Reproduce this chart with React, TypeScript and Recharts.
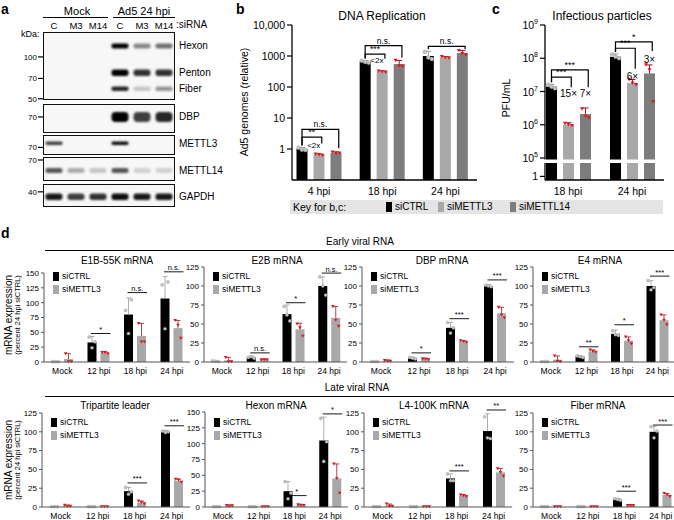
import React from 'react';
import { BarChart, Bar, XAxis, YAxis, ScatterChart, Scatter } from 'recharts';

const FONT = '"Liberation Sans", Arial, Helvetica, sans-serif';
const CTRL_COLOR = '#000000';
const M3_COLOR = '#a8a8a8';
const M14_COLOR = '#7d7d7d';
const RED = '#e0161c';
const ERR_CTRL = '#9a9a9a';
const ERR_KD = '#a3161b';
const DOT_GRAY = '#c4c4c4';

// ---------------- Panel a : western blot ----------------
const blotLanes = ['C', 'M3', 'M14', 'C', 'M3', 'M14'];
const hexonBand = [0, 0, 0, 1.0, 0.45, 0.55];
const pentonBand = [0, 0, 0, 1.0, 0.8, 0.8];
const fiberBand = [0, 0, 0, 0.85, 0.2, 0.4];
const dbpBand = [0, 0, 0, 1.0, 0.75, 0.85];
const mettl3Band = [0.75, 0, 0, 0.95, 0, 0];
const mettl14Band = [0.65, 0.3, 0.2, 0.65, 0.15, 0.15];
const gapdhBand = [0.9, 0.75, 0.8, 0.95, 0.9, 0.9];
const bandNames = ['Hexon', 'Penton', 'Fiber', 'DBP', 'METTL3', 'METTL14', 'GAPDH'];
const bandKDa = [120, 77, 59, 70, 75, 59, 37];
const markers1 = [100, 70, 50];
const markers2 = [70];
const markers3 = [70];
const markers4 = [70];
const markers5 = [40];

// ---------------- Panel b : DNA replication ----------------
const bCats = ['4 hpi', '18 hpi', '24 hpi'];
const bTicks = [1, 10, 100, 1000, 10000];
const bCtrl = [1.0, 650, 1000];
const bCtrlErr = [0.12, 60, 420];
const bCtrlReps = [[1.1, 0.95, 0.92], [700, 640, 610], [1350, 900, 800]];
const bM3 = [0.65, 310, 900];
const bM3Err = [0.04, 20, 60];
const bM3Reps = [[0.68, 0.66, 0.62], [325, 310, 300], [950, 880, 870]];
const bM14 = [0.75, 550, 1250];
const bM14Err = [0.06, 170, 260];
const bM14Reps = [[0.8, 0.72, 0.74], [720, 480, 460], [1500, 1200, 1080]];
const bSig = [
  { cat: 0, to: 1, label: '**', line: 2.4, drop: 1.5 },
  { cat: 0, to: 2, label: 'n.s.', line: 4.3, drop: 1.05 },
  { cat: 1, to: 1, label: '***', line: 1150, drop: 820 },
  { cat: 1, to: 2, label: 'n.s.', line: 2150, drop: 900 },
  { cat: 2, to: 2, label: 'n.s.', line: 2050, drop: 1650 },
];
const bFold = [
  { cat: 0, to: 1, label: '<2x', at: 1.08 },
  { cat: 1, to: 1, label: '<2x', at: 590 },
];

// ---------------- Panel c : infectious particles ----------------
const cCats = ['18 hpi', '24 hpi'];
const cTicks = [28000, 1e5, 1e6, 1e7, 1e8, 1e9];
const cCtrl = [1.4e7, 1.1e8];
const cCtrlErr = [2.5e6, 2.5e7];
const cCtrlReps = [[1.6e7, 1.4e7, 1.25e7], [1.3e8, 1.1e8, 1.0e8]];
const cM3 = [1.0e6, 1.8e7];
const cM3Err = [1.5e5, 5e6];
const cM3Reps = [[1.1e6, 1.0e6, 0.95e6], [2.3e7, 1.8e7, 1.6e7]];
const cM14 = [2.1e6, 3.5e7];
const cM14Err = [1.1e6, 2.8e7];
const cM14Reps = [[3.0e6, 1.8e6, 1.6e6], [6.3e7, 4.5e7, 5e6]];
const cSig = [
  { cat: 0, to: 1, label: '***', line: 2.7e7, drop: 1.35e7 },
  { cat: 0, to: 2, label: '***', line: 4.5e7, drop: 1.35e7 },
  { cat: 1, to: 1, label: '***', line: 2.0e8, drop: 4.8e7 },
  { cat: 1, to: 2, label: '*', line: 3.1e8, drop: 1.65e8 },
];
const cFold = [
  { cat: 0, to: 1, label: '15×', at: 6.8e6 },
  { cat: 0, to: 2, label: '7×', at: 6.8e6 },
  { cat: 1, to: 1, label: '6×', at: 2.2e7 },
  { cat: 1, to: 2, label: '3×', at: 7.0e7 },
];

// ---------------- Panel d : viral mRNAs ----------------
const dCats = ['Mock', '12 hpi', '18 hpi', '24 hpi'];
const ticks125 = [0, 25, 50, 75, 100, 125];
const ticks150 = [0, 25, 50, 75, 100, 125, 150];
const Z = [0.5, 0.5, 0.5];

const e1bCtrl = [0.5, 33, 80, 107];
const e1bCtrlErr = [0, 10, 28, 37];
const e1bCtrlReps = [Z, [42, 24, 34], [87, 48, 105], [130, 56, 135]];
const e1bM3 = [5, 15, 44, 57];
const e1bM3Err = [9, 2, 21, 13];
const e1bM3Reps = [[14, 0.5, 0.5], [16, 16, 14], [65, 34, 34], [70, 62, 40]];
const e1bSig = ['', '*', 'n.s.', 'n.s.'];
const e1bSigAt = [0, 48, 117, 152];

const e2bCtrl = [1, 6, 63, 100];
const e2bCtrlErr = [0.5, 1.5, 12, 12];
const e2bCtrlReps = [[1.5, 1, 0.5], [6, 7, 5], [73, 62, 54], [112, 100, 88]];
const e2bM3 = [2, 3, 43, 58];
const e2bM3Err = [4, 0.5, 8, 15];
const e2bM3Reps = [[6, 0.5, 0.5], [3, 3, 3], [50, 45, 34], [73, 55, 47]];
const e2bSig = ['', 'n.s.', '*', 'n.s.'];
const e2bSigAt = [0, 12, 78, 117];

const dbpCtrl = [0.5, 5, 45, 100];
const dbpCtrlErr = [0, 1.5, 7, 2];
const dbpCtrlReps = [Z, [6, 5, 4], [52, 38, 45], [101, 100, 99]];
const dbpM3 = [1.5, 4, 27, 64];
const dbpM3Err = [1, 0.5, 1, 8];
const dbpM3Reps = [[2, 1.5, 1], [4.5, 4, 3.5], [28, 27, 26], [72, 62, 58]];
const dbpSig = ['', '*', '***', '***'];
const dbpSigAt = [0, 12, 57, 108];

const e4Ctrl = [0.5, 7, 37, 100];
const e4CtrlErr = [0, 1.5, 5, 7];
const e4CtrlReps = [Z, [8, 7, 6], [41, 36, 35], [107, 95, 98]];
const e4M3 = [3, 14, 28, 55];
const e4M3Err = [5, 2, 5, 7];
const e4M3Reps = [[8, 1, 0.5], [16, 14, 13], [33, 28, 24], [62, 55, 49]];
const e4Sig = ['', '**', '*', '***'];
const e4SigAt = [0, 20, 49, 113];

const tplCtrl = [0.5, 0.5, 21, 100];
const tplCtrlErr = [0, 0, 5, 2];
const tplCtrlReps = [Z, Z, [26, 17, 20], [101, 99, 100]];
const tplM3 = [1.5, 0.5, 6, 35];
const tplM3Err = [1, 0, 2, 2];
const tplM3Reps = [[2.5, 1, 1], Z, [8, 6, 4.5], [37, 36, 33]];
const tplSig = ['', '', '***', '***'];
const tplSigAt = [0, 0, 32, 108];

const hexCtrl = [0.5, 0.5, 25, 105];
const hexCtrlErr = [0, 0, 15, 37];
const hexCtrlReps = [Z, Z, [40, 13, 22], [140, 72, 103]];
const hexM3 = [2, 0.5, 3, 45];
const hexM3Err = [1, 0, 1, 23];
const hexM3Reps = [[2.5, 1.5, 2], Z, [3.5, 3, 2.5], [68, 45, 22]];
const hexSig = ['', '', '*', '*'];
const hexSigAt = [0, 0, 18, 147];

const l4Ctrl = [0.5, 0.5, 38, 101];
const l4CtrlErr = [0, 0, 6, 23];
const l4CtrlReps = [Z, Z, [44, 35, 35], [120, 92, 91]];
const l4M3 = [2, 0.5, 15, 46];
const l4M3Err = [2, 0, 1.5, 5];
const l4M3Reps = [[4, 1, 1], Z, [16, 15, 14], [51, 46, 41]];
const l4Sig = ['', '', '***', '**'];
const l4SigAt = [0, 0, 48, 129];

const fibCtrl = [0.5, 0.5, 10, 100];
const fibCtrlErr = [0, 0, 1.5, 7];
const fibCtrlReps = [Z, Z, [11, 10, 9], [107, 92, 101]];
const fibM3 = [0.5, 0.5, 2, 16];
const fibM3Err = [0, 0, 0.5, 2];
const fibM3Reps = [Z, Z, [2, 2, 2], [18, 16, 14]];
const fibSig = ['', '', '***', '***'];
const fibSigAt = [0, 0, 21, 109];

// ---------------- helpers ----------------
const Txt = ({ x, y, s = 10, a = 'middle', b = false, children }: any) => {
  const tx = a === 'middle' ? '-50%' : a === 'end' ? '-100%' : '0';
  return (
    <div style={{ position: 'absolute', left: x, top: y, transform: `translate(${tx}, -50%)`, fontSize: s, fontWeight: b ? 'bold' : 'normal', whiteSpace: 'nowrap', lineHeight: 1 }}>
      {children}
    </div>
  );
};
const RotTxt = ({ x, y, s = 10, children }: any) => (
  <div style={{ position: 'absolute', left: x, top: y, transform: 'translate(-50%, -50%) rotate(-90deg)', fontSize: s, whiteSpace: 'nowrap', lineHeight: 1 }}>
    {children}
  </div>
);
const HLine = ({ x, y, w, t = 1 }: any) => (
  <div style={{ position: 'absolute', left: x, top: y, width: w, height: 0, borderTop: `${t}px solid #000` }} />
);
const Swatch = ({ x, y, w, h, c }: any) => (
  <div style={{ position: 'absolute', left: x, top: y, width: w, height: h, background: c }} />
);

type Sig = { cat: number; to: number; label: string; line: number; drop: number };
type Fold = { cat: number; to: number; label: string; at: number };
type ShapeOpts = {
  means: number[]; errs: number[]; reps: number[][];
  logMin?: number; errColor: string; dot: 'circle' | 'tri'; dotR: number;
  series: number; gap: number; ctrlTop?: number[];
  brackets?: Sig[]; bracketFont?: number;
  folds?: Fold[]; foldFont?: number; foldAnchor?: 'end' | 'middle';
  lineSig?: { labels: string[]; at: number[] };
  breakAt?: number; capW: number; errW: number;
};

function makeShape(o: ShapeOpts) {
  return (props: any) => {
    const { x, y, width, height, fill } = props;
    const idx = props.payload && props.payload.i !== undefined ? props.payload.i : props.index;
    const m = o.means[idx];
    const bottom = y + height;
    let py: (v: number) => number;
    if (o.logMin) {
      const lm = Math.log10(o.logMin);
      const k = height / (Math.log10(m) - lm);
      py = (v) => bottom - (Math.log10(v) - lm) * k;
    } else {
      const k = m > 0 ? height / m : 0;
      py = (v) => bottom - v * k;
    }
    const cx = x + width / 2;
    const els: any[] = [];
    els.push(<rect key="bar" x={x} y={y} width={width} height={height} fill={fill} />);
    if (o.breakAt) {
      const yb = py(o.breakAt);
      els.push(<rect key="brk" x={x - 1} y={yb + 1.5} width={width + 2} height={3.5} fill="#fff" />);
    }
    const e = o.errs[idx];
    if (e > 0) {
      const t = py(m + e);
      els.push(<line key="e1" x1={cx} x2={cx} y1={py(m)} y2={t} stroke={o.errColor} strokeWidth={o.errW} />);
      els.push(<line key="e2" x1={cx - o.capW} x2={cx + o.capW} y1={t} y2={t} stroke={o.errColor} strokeWidth={o.errW} />);
    }
    (o.reps[idx] || []).forEach((v, j) => {
      const px = cx + (j - 1) * width * 0.32;
      const pyv = py(v);
      if (o.dot === 'circle') {
        els.push(<circle key={'d' + j} cx={px} cy={pyv} r={o.dotR} fill={DOT_GRAY} stroke="#8a8a8a" strokeWidth={0.3} />);
      } else {
        const s = o.dotR;
        els.push(<path key={'d' + j} d={`M${px - s},${pyv - s * 0.8} L${px + s},${pyv - s * 0.8} L${px},${pyv + s * 0.9} Z`} fill={RED} />);
      }
    });
    const ctrlCx = x - o.series * (width + o.gap) + width / 2;
    (o.brackets || []).filter((s) => s.cat === idx && s.to === o.series).forEach((s, j) => {
      const dropX = cx + width * 0.25;
      const ly = py(s.line);
      const ctrlY = py(o.ctrlTop ? o.ctrlTop[idx] : m) - 2;
      els.push(<path key={'bk' + j} d={`M${ctrlCx},${ctrlY} L${ctrlCx},${ly} L${dropX},${ly} L${dropX},${py(s.drop)}`} fill="none" stroke="#000" strokeWidth={1.2} />);
      els.push(<text key={'bt' + j} x={(ctrlCx + dropX) / 2} y={ly - 2} textAnchor="middle" fontSize={o.bracketFont} fill="#000">{s.label}</text>);
    });
    (o.folds || []).filter((f) => f.cat === idx && f.to === o.series).forEach((f, j) => {
      const fx = o.foldAnchor === 'end' ? cx + width * 0.25 - 1.5 : cx;
      els.push(<text key={'f' + j} x={fx} y={py(f.at)} textAnchor={o.foldAnchor || 'middle'} fontSize={o.foldFont} fill="#000">{f.label}</text>);
    });
    if (o.lineSig && o.lineSig.labels[idx]) {
      const ly = py(o.lineSig.at[idx]);
      const x1 = ctrlCx - 1;
      const x2 = x + width + 1;
      els.push(<line key="sl" x1={x1} x2={x2} y1={ly} y2={ly} stroke="#000" strokeWidth={0.9} />);
      els.push(<text key="st" x={(x1 + x2) / 2} y={ly - 1.5} textAnchor="middle" fontSize={7.5} fill="#000">{o.lineSig.labels[idx]}</text>);
    }
    return <g>{els}</g>;
  };
}

// ---------------- Panel a component ----------------
const blotBoxes = [
  { top: 32, bottom: 100, domain: [49, 151], markers: markers1, rows: [[hexonBand, 0, 5], [pentonBand, 1, 6.5], [fiberBand, 2, 4.5]], lanesAxis: true },
  { top: 104, bottom: 133, domain: [53.7, 86.6], markers: markers2, rows: [[dbpBand, 3, 10]], lanesAxis: false },
  { top: 134.5, bottom: 155, domain: [61.2, 86.0], markers: markers3, rows: [[mettl3Band, 4, 3.5]], lanesAxis: false },
  { top: 157, bottom: 181, domain: [49.6, 73.5], markers: markers4, rows: [[mettl14Band, 5, 5]], lanesAxis: false },
  { top: 184, bottom: 207, domain: [31.3, 45.4], markers: markers5, rows: [[gapdhBand, 6, 6.5]], lanesAxis: false },
];

const bandShape = (thick: number, fid: string) => (p: any) => {
  const v = p.payload ? p.payload.v : 0;
  if (!v) return <g />;
  return <rect x={p.cx - 8.5} y={p.cy - thick / 2} width={17} height={thick} rx={thick / 2.5} fill="#000" fillOpacity={v} filter={`url(#${fid})`} />;
};

const BlotBox = ({ box, idx }: any) => {
  const AXW = 22;
  const RW = 50;
  const TOPH = box.lanesAxis ? 14 : 0;
  const MT = box.lanesAxis ? 0 : 6;
  const MB = 6;
  const plotL = 43;
  const plotR = 175;
  const w = AXW + (plotR - plotL) + RW;
  const h = box.bottom - box.top + TOPH + MT + MB;
  const rowKDa = box.rows.map((r: any) => bandKDa[r[1]]);
  const fid = 'blur' + idx;
  return (
    <>
      <div style={{ position: 'absolute', left: plotL, top: box.top, width: plotR - plotL, height: box.bottom - box.top, background: '#f7f7f7', border: '1.3px solid #111', boxSizing: 'border-box' }} />
      <div style={{ position: 'absolute', left: plotL - AXW, top: box.top - TOPH - MT }}>
        <ScatterChart width={w} height={h} margin={{ top: MT, right: 0, bottom: MB, left: 0 }}>
          <defs>
            <filter id={fid} x="-30%" y="-100%" width="160%" height="300%">
              <feGaussianBlur stdDeviation="0.9" />
            </filter>
          </defs>
          <XAxis type="number" dataKey="lane" domain={[-0.5, 5.5]} ticks={[0, 1, 2, 3, 4, 5]} orientation="top" hide={!box.lanesAxis} height={TOPH} interval={0}
            tickFormatter={(v: number) => blotLanes[v]} axisLine={false} tickLine={false} tickSize={1} tickMargin={2} tick={{ fontSize: 9.5, fill: '#000' }} allowDataOverflow />
          <YAxis yAxisId="l" type="number" dataKey="kDa" scale="log" domain={box.domain} allowDataOverflow ticks={box.markers} width={AXW} interval={0}
            tickSize={5} axisLine={false} tickLine={{ stroke: '#000', strokeWidth: 1.2 }} tickMargin={1} tick={{ fontSize: 8, fill: '#000' }} />
          <YAxis yAxisId="r" orientation="right" type="number" scale="log" domain={box.domain} allowDataOverflow ticks={rowKDa} width={RW} interval={0}
            tickFormatter={(v: number) => bandNames[box.rows[rowKDa.indexOf(v)][1]]} axisLine={false} tickLine={false} tickSize={2} tickMargin={2} tick={{ fontSize: 10, fill: '#000' }} />
          {box.rows.map((r: any, k: number) => (
            <Scatter key={k} yAxisId="l" isAnimationActive={false}
              data={blotLanes.map((_, i) => ({ lane: i, kDa: bandKDa[r[1]], v: r[0][i] }))}
              shape={bandShape(r[2], fid)} />
          ))}
        </ScatterChart>
      </div>
    </>
  );
};

// ---------------- Panel d component ----------------
const DPanel = ({ p }: any) => {
  const YW = 24;
  const XH = 16;
  const MT = 16;
  const rows = dCats.map((c, i) => ({ cat: c, i, ctrl: p.ctrl[i], m3: p.m3[i] }));
  const ctrlShape = makeShape({ means: p.ctrl, errs: p.ctrlErr, reps: p.ctrlReps, errColor: ERR_CTRL, dot: 'circle', dotR: 1.6, series: 0, gap: 4, capW: 2.5, errW: 0.8 });
  const m3Shape = makeShape({ means: p.m3, errs: p.m3Err, reps: p.m3Reps, errColor: ERR_KD, dot: 'tri', dotR: 1.8, series: 1, gap: 4, capW: 2.5, errW: 0.8, lineSig: { labels: p.sig, at: p.sigAt } });
  return (
    <>
      <Txt x={p.tx} y={p.ty} s={10}>{p.title}</Txt>
      <div style={{ position: 'absolute', left: p.L - YW, top: p.T - MT }}>
        <BarChart width={p.R - p.L + YW} height={p.B - p.T + MT + XH} data={rows} margin={{ top: MT, right: 0, bottom: 0, left: 0 }} barSize={9} barGap={4}>
          <XAxis dataKey="cat" height={XH} interval={0} tickLine={false} tickSize={4} axisLine={{ stroke: '#555' }} tick={{ fontSize: 8.5, fill: '#000' }} />
          <YAxis width={YW} type="number" domain={[0, p.max]} ticks={p.max === 150 ? ticks150 : ticks125} tickSize={3} tickMargin={2} interval={0}
            axisLine={{ stroke: '#555' }} tickLine={{ stroke: '#555' }} tick={{ fontSize: 8, fill: '#000' }} />
          <Bar dataKey="ctrl" fill={CTRL_COLOR} isAnimationActive={false} shape={ctrlShape} />
          <Bar dataKey="m3" fill={M3_COLOR} isAnimationActive={false} shape={m3Shape} />
        </BarChart>
      </div>
      <Swatch x={p.L + 9} y={p.LT - 4.5} w={6} h={9} c={CTRL_COLOR} />
      <Txt x={p.L + 18} y={p.LT} s={8.5} a="start">siCTRL</Txt>
      <Swatch x={p.L + 9} y={p.LT + 13 - 4.5} w={6} h={9} c={M3_COLOR} />
      <Txt x={p.L + 18} y={p.LT + 13} s={8.5} a="start">siMETTL3</Txt>
    </>
  );
};

const dPanels = [
  { title: 'E1B-55K mRNA', tx: 117, ty: 261, L: 44, R: 190, T: 273, B: 362, LT: 276, max: 150, ctrl: e1bCtrl, ctrlErr: e1bCtrlErr, ctrlReps: e1bCtrlReps, m3: e1bM3, m3Err: e1bM3Err, m3Reps: e1bM3Reps, sig: e1bSig, sigAt: e1bSigAt },
  { title: 'E2B mRNA', tx: 277, ty: 261, L: 204, R: 347, T: 267, B: 362, LT: 276, max: 125, ctrl: e2bCtrl, ctrlErr: e2bCtrlErr, ctrlReps: e2bCtrlReps, m3: e2bM3, m3Err: e2bM3Err, m3Reps: e2bM3Reps, sig: e2bSig, sigAt: e2bSigAt },
  { title: 'DBP mRNA', tx: 442, ty: 261, L: 362, R: 514, T: 267, B: 362, LT: 276, max: 125, ctrl: dbpCtrl, ctrlErr: dbpCtrlErr, ctrlReps: dbpCtrlReps, m3: dbpM3, m3Err: dbpM3Err, m3Reps: dbpM3Reps, sig: dbpSig, sigAt: dbpSigAt },
  { title: 'E4 mRNA', tx: 600, ty: 261, L: 533, R: 675, T: 267, B: 362, LT: 276, max: 125, ctrl: e4Ctrl, ctrlErr: e4CtrlErr, ctrlReps: e4CtrlReps, m3: e4M3, m3Err: e4M3Err, m3Reps: e4M3Reps, sig: e4Sig, sigAt: e4SigAt },
  { title: 'Tripartite leader', tx: 115, ty: 406, L: 42, R: 190, T: 413, B: 507, LT: 422, max: 125, ctrl: tplCtrl, ctrlErr: tplCtrlErr, ctrlReps: tplCtrlReps, m3: tplM3, m3Err: tplM3Err, m3Reps: tplM3Reps, sig: tplSig, sigAt: tplSigAt },
  { title: 'Hexon mRNA', tx: 276, ty: 406, L: 205, R: 348, T: 412, B: 507, LT: 422, max: 150, ctrl: hexCtrl, ctrlErr: hexCtrlErr, ctrlReps: hexCtrlReps, m3: hexM3, m3Err: hexM3Err, m3Reps: hexM3Reps, sig: hexSig, sigAt: hexSigAt },
  { title: 'L4-100K mRNA', tx: 434, ty: 406, L: 364, R: 512, T: 413, B: 507, LT: 422, max: 125, ctrl: l4Ctrl, ctrlErr: l4CtrlErr, ctrlReps: l4CtrlReps, m3: l4M3, m3Err: l4M3Err, m3Reps: l4M3Reps, sig: l4Sig, sigAt: l4SigAt },
  { title: 'Fiber mRNA', tx: 598, ty: 406, L: 533, R: 679, T: 413, B: 507, LT: 422, max: 125, ctrl: fibCtrl, ctrlErr: fibCtrlErr, ctrlReps: fibCtrlReps, m3: fibM3, m3Err: fibM3Err, m3Reps: fibM3Reps, sig: fibSig, sigAt: fibSigAt },
];

// ---------------- log tick for panel c ----------------
const PowTick = (props: any) => {
  const { x, y, payload } = props;
  const v = payload.value;
  if (v < 1e5) {
    return <text x={x} y={y} dy={4} textAnchor="end" fontSize={10.5} fill="#000">1</text>;
  }
  const e = Math.round(Math.log10(v));
  return (
    <text x={x} y={y} dy={4} textAnchor="end" fontSize={10.5} fill="#000">
      10<tspan dy={-5} fontSize={7}>{e}</tspan>
    </text>
  );
};

const B_MIN = 0.1;
const C_MIN = 21800;
const C_PLOT_H = 155;
const cBreakLen = ((9 - 5) / (9 - Math.log10(C_MIN))) * C_PLOT_H;

export default function App() {
  const bRows = bCats.map((c, i) => ({ cat: c, i, ctrl: bCtrl[i], m3: bM3[i], m14: bM14[i] }));
  const cRows = cCats.map((c, i) => ({ cat: c, i, ctrl: cCtrl[i], m3: cM3[i], m14: cM14[i] }));
  const bCtrlTop = bCtrl.map((v, i) => v + bCtrlErr[i]);
  const cCtrlTop = cCtrl.map((v, i) => v + cCtrlErr[i]);
  const bCommon = { logMin: B_MIN, gap: 6, capW: 3, errW: 1, dotR: 2, bracketFont: 8.5, foldFont: 8, foldAnchor: 'end' as const, ctrlTop: bCtrlTop };
  const cCommon = { logMin: C_MIN, gap: 6, capW: 3, errW: 1, dotR: 2, bracketFont: 9, foldFont: 10, foldAnchor: 'middle' as const, ctrlTop: cCtrlTop, breakAt: 1e5 };

  return (
    <div style={{ position: 'absolute', left: 0, top: 0, width: 674, height: 520, background: '#fff', fontFamily: FONT, color: '#000', overflow: 'hidden' }}>
      {/* ---------- a ---------- */}
      <Txt x={1} y={9} s={14} b a="start">a</Txt>
      <Txt x={77} y={11} s={11}>Mock</Txt>
      <HLine x={43} y={17} w={65} />
      <Txt x={144} y={11} s={11}>Ad5 24 hpi</Txt>
      <HLine x={113} y={17} w={62} />
      <Txt x={176} y={25} s={10} a="start">:siRNA</Txt>
      <Txt x={21} y={34} s={9} a="start">kDa:</Txt>
      {blotBoxes.map((bx, i) => <BlotBox key={i} box={bx} idx={i} />)}

      {/* ---------- b ---------- */}
      <Txt x={236} y={9} s={14} b a="start">b</Txt>
      <Txt x={382} y={16} s={12}>DNA Replication</Txt>
      <RotTxt x={244} y={102} s={10.5}>Ad5 genomes (relative)</RotTxt>
      <div style={{ position: 'absolute', left: 247, top: 15 }}>
        <BarChart width={230} height={185} data={bRows} margin={{ top: 10, right: 0, bottom: 0, left: 0 }} barSize={11} barGap={6}>
          <XAxis dataKey="cat" height={20} padding={{ left: -4.5, right: 0 }} tickLine={false} tickSize={6} interval={0} axisLine={{ stroke: '#000', strokeWidth: 1.3 }} tick={{ fontSize: 10.5, fill: '#000' }} />
          <YAxis width={45} type="number" scale="log" domain={[B_MIN, 10000]} ticks={bTicks} interval={0}
            tickFormatter={(v: number) => (v === 10000 ? '10,000' : String(v))}
            axisLine={{ stroke: '#000', strokeWidth: 1.3 }} tickLine={{ stroke: '#000', strokeWidth: 1.2 }} tickSize={5} tickMargin={2} tick={{ fontSize: 10.5, fill: '#000' }} />
          <Bar dataKey="ctrl" fill={CTRL_COLOR} isAnimationActive={false}
            shape={makeShape({ ...bCommon, means: bCtrl, errs: bCtrlErr, reps: bCtrlReps, errColor: ERR_CTRL, dot: 'circle', series: 0 })} />
          <Bar dataKey="m3" fill={M3_COLOR} isAnimationActive={false}
            shape={makeShape({ ...bCommon, means: bM3, errs: bM3Err, reps: bM3Reps, errColor: ERR_KD, dot: 'tri', series: 1, brackets: bSig, folds: bFold })} />
          <Bar dataKey="m14" fill={M14_COLOR} isAnimationActive={false}
            shape={makeShape({ ...bCommon, means: bM14, errs: bM14Err, reps: bM14Reps, errColor: ERR_KD, dot: 'tri', series: 2, brackets: bSig, folds: bFold })} />
        </BarChart>
      </div>

      {/* ---------- c ---------- */}
      <Txt x={492} y={9} s={14} b a="start">c</Txt>
      <Txt x={602} y={16} s={12}>Infectious particles</Txt>
      <RotTxt x={506} y={98} s={10.5}>PFU/mL</RotTxt>
      <div style={{ position: 'absolute', left: 505, top: 15 }}>
        <BarChart width={159} height={185} data={cRows} margin={{ top: 10, right: 0, bottom: 0, left: 0 }} barSize={11} barGap={6}>
          <XAxis dataKey="cat" height={20} padding={{ left: -9, right: 0 }} tickLine={false} tickSize={6} interval={0} axisLine={{ stroke: '#000', strokeWidth: 1.3 }} tick={{ fontSize: 10.5, fill: '#000' }} />
          <YAxis width={40} type="number" scale="log" domain={[C_MIN, 1e9]} ticks={cTicks} tick={<PowTick />} interval={0}
            axisLine={{ stroke: '#000', strokeWidth: 1.3, strokeDasharray: `${cBreakLen + 1.5} 3.5 400` }} tickLine={{ stroke: '#000', strokeWidth: 1.2 }} tickSize={5} tickMargin={2} />
          <Bar dataKey="ctrl" fill={CTRL_COLOR} isAnimationActive={false}
            shape={makeShape({ ...cCommon, means: cCtrl, errs: cCtrlErr, reps: cCtrlReps, errColor: ERR_CTRL, dot: 'circle', series: 0 })} />
          <Bar dataKey="m3" fill={M3_COLOR} isAnimationActive={false}
            shape={makeShape({ ...cCommon, means: cM3, errs: cM3Err, reps: cM3Reps, errColor: ERR_KD, dot: 'tri', series: 1, brackets: cSig, folds: cFold })} />
          <Bar dataKey="m14" fill={M14_COLOR} isAnimationActive={false}
            shape={makeShape({ ...cCommon, means: cM14, errs: cM14Err, reps: cM14Reps, errColor: ERR_KD, dot: 'tri', series: 2, brackets: cSig, folds: cFold })} />
        </BarChart>
      </div>

      {/* ---------- key for b,c ---------- */}
      <div style={{ position: 'absolute', left: 290, top: 200, width: 373, height: 14, background: '#e4e4e4' }} />
      <Txt x={293} y={207} s={10.5} a="start">Key for b,c:</Txt>
      <Swatch x={386} y={202} w={6} h={10} c={CTRL_COLOR} />
      <Txt x={395} y={207} s={10} a="start">siCTRL</Txt>
      <Swatch x={438} y={202} w={6} h={10} c={M3_COLOR} />
      <Txt x={447} y={207} s={10} a="start">siMETTL3</Txt>
      <Swatch x={510} y={202} w={6} h={10} c={M14_COLOR} />
      <Txt x={519} y={207} s={10} a="start">siMETTL14</Txt>

      {/* ---------- d ---------- */}
      <Txt x={1} y={233} s={14} b a="start">d</Txt>
      <Txt x={360} y={242} s={10}>Early viral RNA</Txt>
      <HLine x={45} y={250} w={629} />
      <Txt x={357} y={388} s={10}>Late viral RNA</Txt>
      <HLine x={45} y={396} w={629} />
      <RotTxt x={9} y={315} s={10}>mRNA expression</RotTxt>
      <RotTxt x={18} y={315} s={7.5}>(percent 24 hpi siCTRL)</RotTxt>
      <RotTxt x={9} y={460} s={10}>mRNA expression</RotTxt>
      <RotTxt x={18} y={460} s={7.5}>(percent 24 hpi siCTRL)</RotTxt>
      {dPanels.map((p, i) => <DPanel key={i} p={p} />)}
    </div>
  );
}
